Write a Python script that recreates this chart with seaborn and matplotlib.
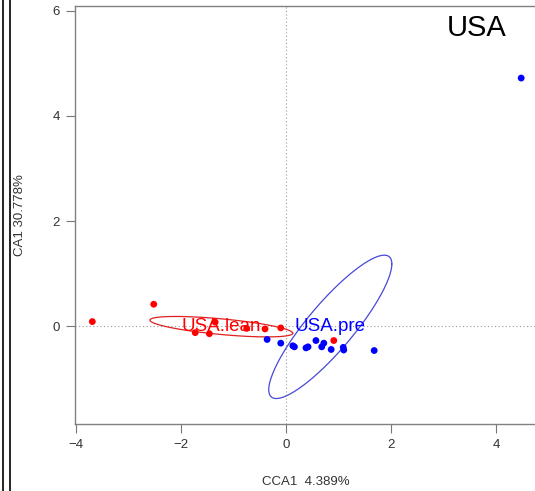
import numpy as np
import pandas as pd
import matplotlib
matplotlib.use("Agg")
import matplotlib.pyplot as plt
from matplotlib.lines import Line2D
import seaborn as sns

# ---- data ----
lean_x = [-3.69, -2.52, -1.73, -1.46, -1.35, -0.75, -0.40, -0.10, 0.91]
lean_y = [0.09, 0.42, -0.12, -0.14, 0.08, -0.04, -0.05, -0.03, -0.27]
pre_x = [-0.36, -0.10, 0.13, 0.16, 0.38, 0.42, 0.57, 0.68, 0.72, 0.86, 1.09, 1.10, 1.68, 4.48]
pre_y = [-0.25, -0.32, -0.37, -0.39, -0.41, -0.39, -0.27, -0.39, -0.32, -0.44, -0.40, -0.45, -0.46, 4.72]
groups = ["USA.lean", "USA.pre"]
colors = {"USA.lean": "#ff0000", "USA.pre": "#0000ff"}
ell_colors = {"USA.lean": "#e02020", "USA.pre": "#4848d8"}
x_ticks = [-4, -2, 0, 2, 4]
y_ticks = [0, 2, 4, 6]
xlabel = "CCA1  4.389%"
ylabel = "CA1 30.778%"
title = "USA"

df = pd.DataFrame({
    "CCA1": lean_x + pre_x,
    "CA1": lean_y + pre_y,
    "group": ["USA.lean"] * len(lean_x) + ["USA.pre"] * len(pre_x),
})

sns.set_theme(style="white")
plt.rcParams["font.family"] = ["Liberation Sans", "DejaVu Sans"]

W, H = 535, 491
fig = plt.figure(figsize=(W / 100, H / 100), dpi=100)
# axes box in pixels: left 75, right 538 (cropped), top 6, bottom 424
L, R, T, B = 75, 538.5, 6, 424
ax = fig.add_axes([L / W, (H - B) / H, (R - L) / W, (B - T) / H])

# zero reference lines
ax.axvline(0, color="#9a9a9a", lw=0.8, ls=(0, (1, 2.2)), zorder=1)
ax.axhline(0, color="#9a9a9a", lw=0.8, ls=(0, (1, 2.2)), zorder=1)

sns.scatterplot(data=df, x="CCA1", y="CA1", hue="group", palette=colors,
                s=24, linewidth=0, legend=False, ax=ax, zorder=3)

# 1-sd ellipses and centroid labels computed from the data
t = np.linspace(0, 2 * np.pi, 300)
for g in groups:
    sub = df[df.group == g]
    pts = sub[["CCA1", "CA1"]].to_numpy()
    c = pts.mean(axis=0)
    cov = np.cov(pts.T)
    Lc = np.linalg.cholesky(cov)
    circ = np.vstack([np.cos(t), np.sin(t)])
    e = (Lc @ circ).T + c
    ax.plot(e[:, 0], e[:, 1], color=ell_colors[g], lw=0.9, zorder=2)
    ax.text(c[0], c[1], g, color=colors[g], fontsize=13.5, ha="center",
            va="center", zorder=4)

ax.set_xlim(-4.02, 4.81)
ax.set_ylim(-1.857, 6.09)
ax.set_xticks(x_ticks)
ax.set_yticks(y_ticks)
ax.set_xticklabels([str(v).replace("-", "\u2212") for v in x_ticks])
ax.set_yticklabels([str(v) for v in y_ticks])
ax.tick_params(axis="both", direction="out", length=6.5, width=0.8,
               color="#777777", labelcolor="#333333", labelsize=9.5,
               pad=4.5, left=True, bottom=True)
for side in ["left", "bottom", "top", "right"]:
    ax.spines[side].set_color("#808080")
    ax.spines[side].set_linewidth(1.0)
ax.spines["right"].set_visible(False)
ax.set_xlabel("")
ax.set_ylabel("")

fig.text(306 / W, 1 - 482 / H, xlabel, ha="center", va="center",
         fontsize=9.5, color="#333333")
fig.text(20 / W, 1 - 215 / H, ylabel, ha="center", va="center",
         rotation=90, fontsize=9.5, color="#333333")
fig.text(477 / W, 1 - 28 / H, title, ha="center", va="center",
         fontsize=21, color="black")

# double vertical frame lines at left edge
for xp in (2.7, 10.3):
    fig.add_artist(Line2D([xp / W, xp / W], [0, 1], color="black", lw=1.2,
                          transform=fig.transFigure))

fig.savefig("out.png", dpi=100)
